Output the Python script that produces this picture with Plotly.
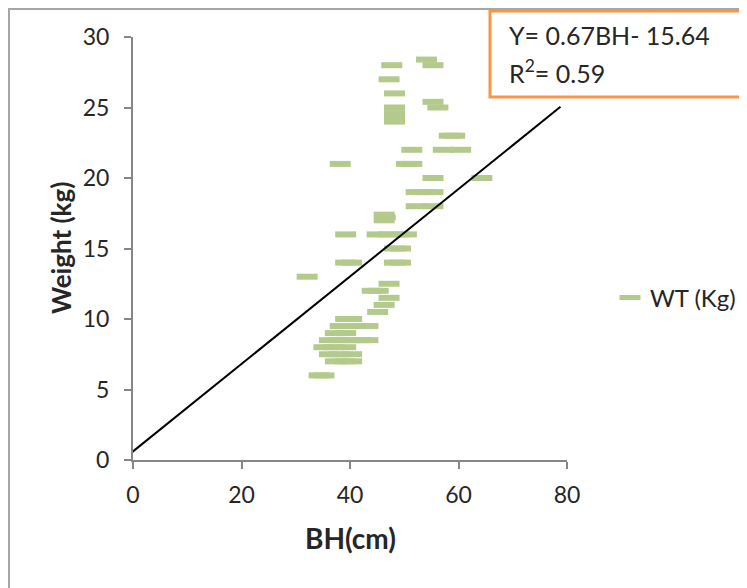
import plotly.graph_objects as go

# Observed data points (BH in cm, weight in kg)
bh = [54.1, 47.7, 55.3, 47.2, 48.2, 55.3, 48.2, 56.2, 48.2, 48.2, 48.2,
      58.3, 59.3, 51.4, 57.2, 60.4, 38.2, 50.4, 51.4, 55.3, 64.3,
      52.2, 53.7, 55.3, 52.2, 55.3, 46.3, 46.5, 46.3,
      39.2, 45.0, 47.0, 49.0, 50.4, 48.2, 49.3, 39.2, 40.3, 48.2, 49.3,
      32.1, 47.2, 44.1, 45.2, 47.2, 46.3, 45.1, 39.2, 40.3,
      38.2, 40.0, 42.0, 43.3, 37.3, 39.2, 36.2, 38.0, 40.0, 42.0, 43.3,
      35.2, 37.0, 39.2, 36.2, 38.0, 40.3, 37.3, 39.0, 40.3, 34.3, 35.2]
wt = [28.4, 28.0, 28.0, 27.0, 26.0, 25.4, 25.0, 25.0, 24.6, 24.3, 24.0,
      23.0, 23.0, 22.0, 22.0, 22.0, 21.0, 21.0, 21.0, 20.0, 20.0,
      19.0, 19.0, 19.0, 18.0, 18.0, 17.4, 17.2, 17.0,
      16.0, 16.0, 16.0, 16.0, 16.0, 15.0, 15.0, 14.0, 14.0, 14.0, 14.0,
      13.0, 12.5, 12.0, 12.0, 11.5, 11.0, 10.5, 10.0, 10.0,
      9.5, 9.5, 9.5, 9.5, 9.0, 9.0, 8.5, 8.5, 8.5, 8.5, 8.5,
      8.0, 8.0, 8.0, 7.5, 7.5, 7.5, 7.0, 7.0, 7.0, 6.0, 6.0]

# Trend line as drawn
trend_x = [-1.0, 78.8]
trend_y = [0.3, 25.05]

x_ticks = [0, 20, 40, 60, 80]
y_ticks = [0, 5, 10, 15, 20, 25, 30]

x_title = "<b>BH(cm)</b>"
y_title = "<b>Weight (kg)</b>"
eq_line1 = "Y= 0.67BH- 15.64"
eq_line2 = "R<sup>2</sup>= 0.59"

FONT = "Lato, 'Open Sans', sans-serif"
GREEN = "#B4CA8C"
GRAY = "#868686"
TXT = "#262626"

OFF = 8  # page body margin
L, T = 125, 29
pw, ph = 434, 423
W, H = 747, 588
R, B = W - L - pw, H - T - ph


def px(sx):
    return (sx - OFF - L) / pw


def py(sy):
    return (T + ph - (sy - OFF)) / ph


fig = go.Figure()
fig.add_trace(go.Scatter(
    x=bh, y=wt, mode="markers", name="WT (Kg)",
    marker=dict(symbol="line-ew", size=15, color=GREEN,
                line=dict(color=GREEN, width=6)),
))
fig.add_trace(go.Scatter(
    x=trend_x, y=trend_y, mode="lines", showlegend=False,
    line=dict(color="black", width=2),
))

shapes = [
    dict(type="line", xref="paper", yref="paper", x0=px(9), x1=px(9),
         y0=py(8), y1=py(620), line=dict(color="#A6A6A6", width=2)),
    dict(type="line", xref="paper", yref="paper", x0=px(8), x1=px(780),
         y0=py(9), y1=py(9), line=dict(color="#A6A6A6", width=2)),
    dict(type="rect", xref="paper", yref="paper", x0=px(490), x1=px(790),
         y0=py(97), y1=py(11), fillcolor="white",
         line=dict(color="#F79646", width=3)),
]

fig.update_layout(
    width=W, height=H,
    margin=dict(l=L, r=R, t=T, b=B),
    paper_bgcolor="white", plot_bgcolor="white",
    font=dict(family=FONT, size=23, color=TXT),
    shapes=shapes,
    annotations=[
        dict(xref="paper", yref="paper", x=px(507), y=py(35), xanchor="left",
             yanchor="middle", text=eq_line1, showarrow=False,
             font=dict(family=FONT, size=25, color=TXT)),
        dict(xref="paper", yref="paper", x=px(507), y=py(71), xanchor="left",
             yanchor="middle", text=eq_line2, showarrow=False,
             font=dict(family=FONT, size=25, color=TXT)),
        dict(xref="paper", yref="paper", x=px(350), y=py(538), xanchor="center",
             yanchor="middle", text=x_title, showarrow=False,
             font=dict(family=FONT, size=28, color=TXT)),
        dict(xref="paper", yref="paper", x=px(61), y=py(248), xanchor="center",
             yanchor="middle", text=y_title, showarrow=False, textangle=-90,
             font=dict(family=FONT, size=26, color=TXT)),
    ],
    xaxis=dict(range=[0, 80], tickvals=x_ticks, showgrid=False, zeroline=False,
               showline=True, linecolor=GRAY, linewidth=2,
               ticks="outside", ticklen=7, tickcolor=GRAY, tickwidth=2,
               ticklabelstandoff=6,
               tickfont=dict(size=23, color=TXT)),
    yaxis=dict(range=[0, 30], tickvals=y_ticks, showgrid=False, zeroline=False,
               showline=True, linecolor=GRAY, linewidth=2,
               ticks="outside", ticklen=7, tickcolor=GRAY, tickwidth=2,
               ticklabelstandoff=10,
               tickfont=dict(size=23, color=TXT)),
    legend=dict(x=px(610), y=py(298), xanchor="left", yanchor="middle",
                font=dict(size=24, color=TXT), bgcolor="rgba(0,0,0,0)"),
)

fig.write_html("out.html")
